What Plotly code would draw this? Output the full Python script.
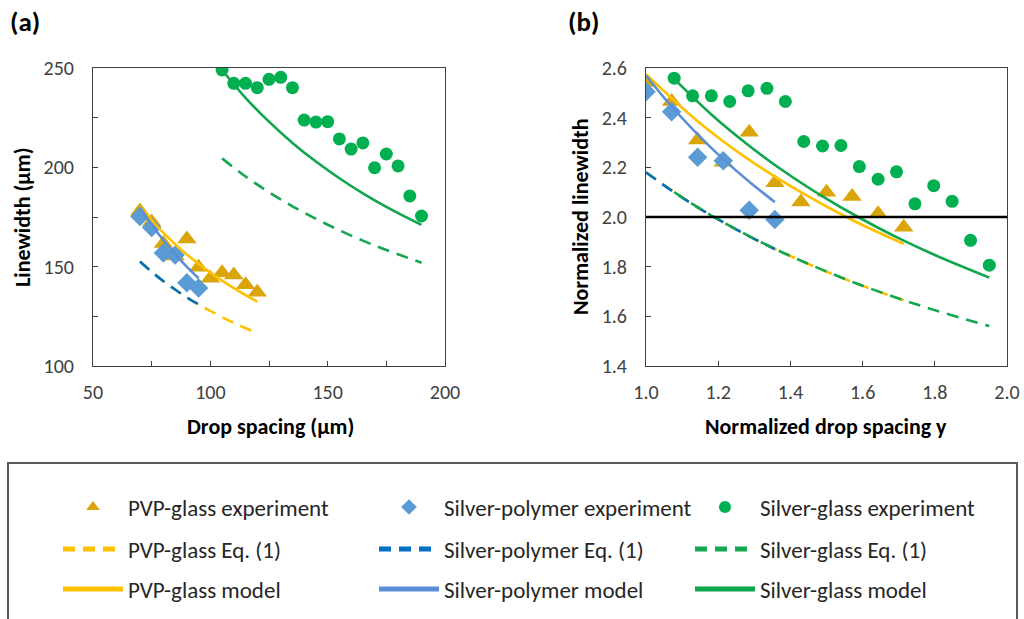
import plotly.graph_objects as go

# ---------------- data ----------------
# Panel (a): absolute drop spacing (µm) vs linewidth (µm)
pvp_x = [70, 75, 80, 85, 90, 95, 100, 105, 110, 115, 120]
pvp_w = [178.0, 172.5, 161.7, 155.4, 163.9, 149.7, 144.2, 147.0, 145.8, 140.9, 137.1]
sp_x = [70, 75, 80, 85, 90, 95]
sp_w = [175.3, 169.7, 156.9, 155.9, 141.9, 139.3]
sg_x = [105, 110, 115, 120, 125, 130, 135, 140, 145, 150, 155, 160, 165, 170, 175, 180, 185, 190]
sg_w = [249.0, 242.3, 242.3, 240.1, 244.3, 245.3, 240.1, 223.8, 222.8, 223.0, 214.3, 209.2,
        212.3, 199.8, 206.7, 200.7, 185.6, 175.5]

pvp_line_x = [70, 80, 90, 100, 110, 120]
pvp_eq_w = [152.6, 142.7, 134.5, 127.7, 121.7, 116.6]
pvp_model_w = [180.3, 167.0, 156.1, 147.0, 139.2, 132.4]
sp_line_x = [70, 75, 80, 85, 90, 95]
sp_eq_w = [152.6, 147.4, 142.7, 138.5, 134.5, 131.0]
sp_model_w = [179.9, 171.1, 163.3, 156.3, 149.9, 144.2]
sg_line_x = [105, 115, 125, 135, 145, 155, 165, 175, 190]
sg_eq_w = [204.5, 195.4, 187.5, 180.4, 174.1, 168.3, 163.1, 158.4, 152.0]
sg_model_w = [249.0, 235.0, 223.0, 212.3, 202.9, 194.5, 186.9, 180.1, 171.0]

# Panel (b): normalized drop spacing vs normalized linewidth
pvp_nx = [1.0, 1.071, 1.143, 1.214, 1.286, 1.357, 1.429, 1.5, 1.571, 1.643, 1.714]
pvp_ny = [2.542, 2.465, 2.310, 2.220, 2.341, 2.138, 2.060, 2.100, 2.083, 2.013, 1.959]
sp_nx = [1.0, 1.071, 1.143, 1.214, 1.286, 1.357]
sp_ny = [2.504, 2.424, 2.241, 2.227, 2.027, 1.990]
sg_nx = [1.078, 1.129, 1.181, 1.232, 1.283, 1.335, 1.386, 1.437, 1.489, 1.540, 1.591, 1.643,
         1.694, 1.745, 1.797, 1.848, 1.899, 1.951]
sg_ny = [2.559, 2.488, 2.488, 2.465, 2.508, 2.518, 2.465, 2.304, 2.286, 2.288, 2.203, 2.152,
         2.182, 2.053, 2.126, 2.063, 1.906, 1.806]

pvp_line_nx = [1.0, 1.143, 1.286, 1.429, 1.571, 1.714]
pvp_eq_ny = [2.180, 2.039, 1.922, 1.824, 1.739, 1.665]
pvp_model_ny = [2.575, 2.386, 2.230, 2.100, 1.988, 1.892]
sp_line_nx = [1.0, 1.071, 1.143, 1.214, 1.286, 1.357]
sp_eq_ny = [2.180, 2.106, 2.039, 1.979, 1.922, 1.871]
sp_model_ny = [2.570, 2.445, 2.333, 2.233, 2.142, 2.060]
sg_line_nx = [1.078, 1.181, 1.283, 1.386, 1.489, 1.591, 1.694, 1.797, 1.951]
sg_eq_ny = [2.100, 2.006, 1.925, 1.852, 1.787, 1.728, 1.675, 1.626, 1.561]
sg_model_ny = [2.556, 2.413, 2.290, 2.180, 2.083, 1.997, 1.919, 1.849, 1.756]

threshold = 2.0

# tick labels
a_xticks = [50, 75, 100, 125, 150, 175, 200]
a_xtext = ["50", "", "100", "", "150", "", "200"]
a_yticks = [100, 125, 150, 175, 200, 225, 250]
a_ytext = ["100", "", "150", "", "200", "", "250"]
b_xticks = [1.0, 1.2, 1.4, 1.6, 1.8, 2.0]
b_xtext = ["1.0", "1.2", "1.4", "1.6", "1.8", "2.0"]
b_yticks = [1.4, 1.6, 1.8, 2.0, 2.2, 2.4, 2.6]
b_ytext = ["1.4", "1.6", "1.8", "2.0", "2.2", "2.4", "2.6"]

names = {
    "pvp_exp": "PVP-glass experiment",
    "sp_exp": "Silver-polymer experiment",
    "sg_exp": "Silver-glass experiment",
    "pvp_eq": "PVP-glass Eq. (1)",
    "sp_eq": "Silver-polymer Eq. (1)",
    "sg_eq": "Silver-glass Eq. (1)",
    "pvp_mod": "PVP-glass model",
    "sp_mod": "Silver-polymer model",
    "sg_mod": "Silver-glass model",
}

# ---------------- styling ----------------
W, H = 1024, 619
FONT = "Carlito, Lato, sans-serif"
C_TRI = "#D9A50B"
C_YEL = "#FFC000"
C_DIA = "#5B9BD5"
C_BLUE_M = "#5A8FD6"
C_BLUE_D = "#0070C0"
C_CIRC = "#00B050"
C_GREEN_M = "#10A64B"
C_GREEN_D = "#14A650"
DASH = "12px,8px"
LW = 2.6
TICK_SIZE = 20
TITLE_SIZE = 22
LEG_SIZE = 23


def px_x(p):
    return p / W


def px_y(p):
    return 1 - p / H


fig = go.Figure()

panels = [
    ("x", "y", True,
     (pvp_x, pvp_w), (sp_x, sp_w), (sg_x, sg_w),
     (pvp_line_x, pvp_eq_w, pvp_model_w), (sp_line_x, sp_eq_w, sp_model_w),
     (sg_line_x, sg_eq_w, sg_model_w)),
    ("x2", "y2", False,
     (pvp_nx, pvp_ny), (sp_nx, sp_ny), (sg_nx, sg_ny),
     (pvp_line_nx, pvp_eq_ny, pvp_model_ny), (sp_line_nx, sp_eq_ny, sp_model_ny),
     (sg_line_nx, sg_eq_ny, sg_model_ny)),
]

for xa, ya, show, pvp, sp, sg, pvpl, spl, sgl in panels:
    # experiments
    fig.add_trace(go.Scatter(x=pvp[0], y=pvp[1], mode="markers", name=names["pvp_exp"],
                             marker=dict(symbol="triangle-up", size=17, color=C_TRI),
                             xaxis=xa, yaxis=ya, showlegend=show, legend="legend"))
    fig.add_trace(go.Scatter(x=sp[0], y=sp[1], mode="markers", name=names["sp_exp"],
                             marker=dict(symbol="diamond", size=15, color=C_DIA),
                             xaxis=xa, yaxis=ya, showlegend=show, legend="legend"))
    fig.add_trace(go.Scatter(x=sg[0], y=sg[1], mode="markers", name=names["sg_exp"],
                             marker=dict(symbol="circle", size=13, color=C_CIRC),
                             xaxis=xa, yaxis=ya, showlegend=show, legend="legend"))
    # Eq. (1)
    for (lx, ly, col, key) in [(pvpl[0], pvpl[1], C_YEL, "pvp_eq"),
                               (spl[0], spl[1], C_BLUE_D, "sp_eq"),
                               (sgl[0], sgl[1], C_GREEN_D, "sg_eq")]:
        fig.add_trace(go.Scatter(x=lx, y=ly, mode="lines", name=names[key],
                                 line=dict(color=col, width=LW, dash=DASH, shape="spline"),
                                 xaxis=xa, yaxis=ya, showlegend=show, legend="legend2"))
    # models
    for (lx, ly, col, key) in [(pvpl[0], pvpl[2], C_YEL, "pvp_mod"),
                               (spl[0], spl[2], C_BLUE_M, "sp_mod"),
                               (sgl[0], sgl[2], C_GREEN_M, "sg_mod")]:
        fig.add_trace(go.Scatter(x=lx, y=ly, mode="lines", name=names[key],
                                 line=dict(color=col, width=LW, shape="spline"),
                                 xaxis=xa, yaxis=ya, showlegend=show, legend="legend3"))

# threshold line in panel (b)
fig.add_shape(type="line", xref="x2 domain", yref="y2", x0=0, x1=1, y0=threshold, y1=threshold,
              line=dict(color="black", width=2.6), layer="above")

axis_common = dict(showline=True, linecolor="#404040", linewidth=1, mirror=True,
                   ticks="inside", ticklen=5, tickcolor="#404040", showgrid=False,
                   zeroline=False, automargin=False,
                   tickfont=dict(family=FONT, size=TICK_SIZE, color="#404040"),
                   fixedrange=True)

legend_common = dict(orientation="h", xanchor="left", yanchor="middle",
                     entrywidth=241, entrywidthmode="pixels", itemwidth=60,
                     itemsizing="constant",
                     font=dict(family=FONT, size=LEG_SIZE, color="#262626"),
                     bgcolor="rgba(0,0,0,0)", traceorder="normal")

y_top, y_bot = 68, 366
LEG_X = 58
fig.update_layout(
    template="none",
    width=W, height=H,
    margin=dict(l=0, r=0, t=0, b=0, pad=0),
    paper_bgcolor="white", plot_bgcolor="white",
    font=dict(family=FONT, color="#262626"),
    xaxis=dict(domain=[px_x(93), px_x(445)], range=[50, 200], tickvals=a_xticks,
               ticktext=a_xtext, anchor="y", ticklabelstandoff=8, **axis_common),
    yaxis=dict(domain=[px_y(y_bot), px_y(y_top)], range=[100, 250], tickvals=a_yticks,
               ticktext=a_ytext, anchor="x", ticklabelstandoff=14, **axis_common),
    xaxis2=dict(domain=[px_x(646), px_x(1007)], range=[1.0, 2.0], tickvals=b_xticks,
                ticktext=b_xtext, anchor="y2", ticklabelstandoff=8, **axis_common),
    yaxis2=dict(domain=[px_y(y_bot), px_y(y_top)], range=[1.4, 2.6], tickvals=b_yticks,
                ticktext=b_ytext, anchor="x2", ticklabelstandoff=14, **axis_common),
    legend=dict(x=px_x(LEG_X), y=px_y(507), **legend_common),
    legend2=dict(x=px_x(LEG_X), y=px_y(549), **legend_common),
    legend3=dict(x=px_x(LEG_X), y=px_y(589), **legend_common),
    showlegend=True,
)

# legend frame
fig.add_shape(type="rect", xref="paper", yref="paper", x0=px_x(8), x1=px_x(1017),
              y0=px_y(640), y1=px_y(463), line=dict(color="#595959", width=2), layer="below")

# annotations: panel labels and axis titles
ann = [
    dict(text="<b>(a)</b>", x=px_x(8), y=px_y(21), size=27, angle=0, xanchor="left"),
    dict(text="<b>(b)</b>", x=px_x(566), y=px_y(21), size=27, angle=0, xanchor="left"),
    dict(text="<b>Drop spacing (µm)</b>", x=px_x(270), y=px_y(426), size=TITLE_SIZE, angle=0, xanchor="center"),
    dict(text="<b>Normalized drop spacing y</b>", x=px_x(826), y=px_y(426), size=TITLE_SIZE, angle=0, xanchor="center"),
    dict(text="<b>Linewidth (µm)</b>", x=px_x(22), y=px_y(217), size=TITLE_SIZE, angle=-90, xanchor="center"),
    dict(text="<b>Normalized linewidth</b>", x=px_x(580), y=px_y(217), size=TITLE_SIZE, angle=-90, xanchor="center"),
]
for a in ann:
    fig.add_annotation(text=a["text"], x=a["x"], y=a["y"], xref="paper", yref="paper",
                       showarrow=False, textangle=a["angle"], xanchor=a["xanchor"], yanchor="middle",
                       font=dict(family=FONT, size=a["size"], color="#000000"))

fig.write_html("out.html", config={"displayModeBar": False},
               post_script="document.body.style.margin='0';")
